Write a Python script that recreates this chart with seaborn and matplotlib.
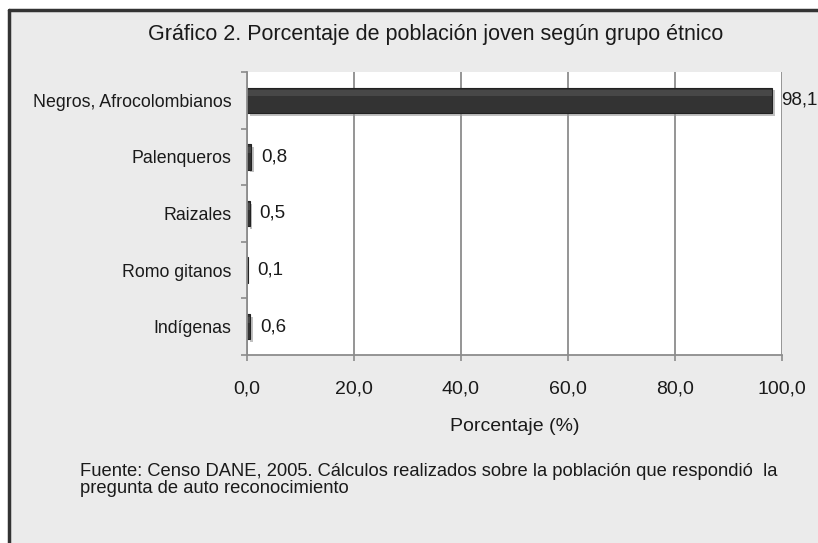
import matplotlib
matplotlib.use("Agg")
import matplotlib.pyplot as plt
import matplotlib.patheffects as pe
from matplotlib.lines import Line2D
from matplotlib.patches import Rectangle
from matplotlib.ticker import FixedLocator, FuncFormatter
import seaborn as sns

# data
grupos = ["Negros, Afrocolombianos", "Palenqueros", "Raizales", "Romo gitanos", "Indígenas"]
porcentajes = [98.1, 0.8, 0.5, 0.1, 0.6]
ticks_x = [0, 20, 40, 60, 80, 100]

sns.set_style("white")
plt.rcParams['font.family'] = ['Liberation Sans', 'DejaVu Sans']

W, H = 818, 543
fig = plt.figure(figsize=(W / 100, H / 100), dpi=100)
fig.patch.set_facecolor("white")

# gray panel with dark frame (top and left edges visible)
fig.patches.append(Rectangle((9 / W, 0), 1, 1 - 10 / H, transform=fig.transFigure,
                             facecolor="#ebebeb", edgecolor="none", zorder=-5))
fig.lines.append(Line2D([9 / W, 1], [1 - 10 / H, 1 - 10 / H], transform=fig.transFigure,
                        color="#333333", lw=2.5, zorder=-4))
fig.lines.append(Line2D([9 / W, 9 / W], [0, 1 - 10 / H], transform=fig.transFigure,
                        color="#333333", lw=2.5, zorder=-4))

ax = fig.add_axes([247 / W, 1 - 355 / H, (782 - 247) / W, (355 - 72) / H])
ax.set_facecolor("white")

sns.barplot(x=porcentajes, y=grupos, orient="h", color="#333333", width=0.45,
            edgecolor="#222222", linewidth=0.8, ax=ax)
for bar in ax.patches:
    bar.set_path_effects([pe.SimplePatchShadow(offset=(2, -2), shadow_rgbFace="#999999", alpha=0.6),
                          pe.Normal()])
    # lighter upper band, like the bevelled bars of the original
    x0, y0 = bar.get_x(), bar.get_y()
    ax.add_patch(Rectangle((x0, y0 + bar.get_height() * 0.1), bar.get_width(),
                           bar.get_height() * 0.25, facecolor="#474747",
                           edgecolor="none", zorder=bar.get_zorder() + 0.1))

def coma(v, pos=None):
    return f"{v:.1f}".replace(".", ",")

for i, v in enumerate(porcentajes):
    ax.annotate(coma(v), xy=(v, i), xytext=(7, 0), textcoords="offset points",
                va="center", ha="left", fontsize=13.5, color="#1a1a1a", annotation_clip=False)

ax.set_xlim(0, 100)
ax.set_ylim(4.5, -0.5)
ax.xaxis.set_major_locator(FixedLocator(ticks_x))
ax.xaxis.set_major_formatter(FuncFormatter(coma))
ax.grid(axis="x", color="#8c8c8c", lw=1.3)
ax.set_axisbelow(True)

for s in ["top", "right"]:
    ax.spines[s].set_visible(False)
for s in ["left", "bottom"]:
    ax.spines[s].set_color("#8c8c8c")
    ax.spines[s].set_linewidth(1.3)

ax.yaxis.set_minor_locator(FixedLocator([-0.5, 0.5, 1.5, 2.5, 3.5, 4.5]))
ax.tick_params(axis="y", which="major", length=0, pad=11, labelsize=12.8, labelcolor="#1a1a1a")
ax.tick_params(axis="y", which="minor", left=True, length=4, width=1.2, color="#8c8c8c")
ax.tick_params(axis="x", which="major", bottom=True, length=4, width=1.2, color="#8c8c8c",
               pad=14, labelsize=14, labelcolor="#1a1a1a")

ax.set_ylabel("")
ax.set_xlabel("Porcentaje (%)", fontsize=14, color="#1a1a1a", labelpad=15)

fig.text(436 / W, 1 - 35 / H, "Gráfico 2. Porcentaje de población joven según grupo étnico",
         ha="center", va="center", fontsize=15.5, color="#1a1a1a")
fig.text(80 / W, 1 - 480 / H,
         "Fuente: Censo DANE, 2005. Cálculos realizados sobre la población que respondió  la\n"
         "pregunta de auto reconocimiento",
         ha="left", va="center", fontsize=13.2, color="#1a1a1a", linespacing=1.05)

fig.savefig("out.png", dpi=100)
